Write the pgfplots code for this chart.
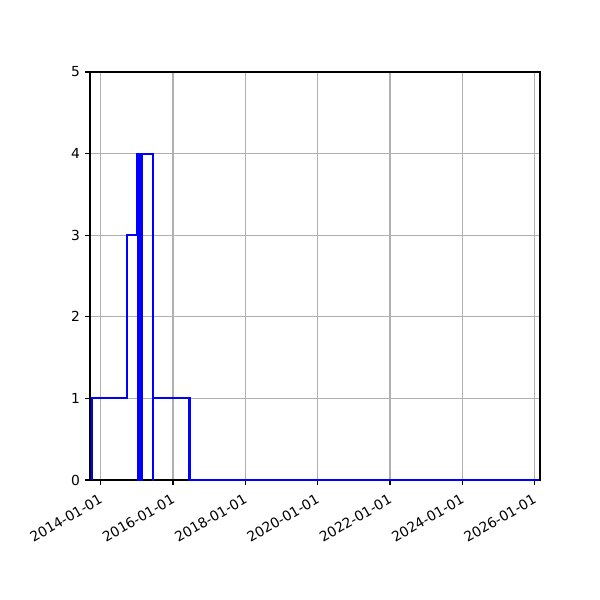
\documentclass[border=0pt]{standalone}
\usepackage{fontspec}
\setmainfont{DejaVu Sans}
\usepackage{pgfplots}
\pgfplotsset{compat=1.18}
\definecolor{gridgray}{RGB}{176,176,176}
\begin{document}
\begin{tikzpicture}
\useasboundingbox (-65.04pt,-86.72pt) rectangle (368.56pt,346.9pt);
\begin{axis}[
  at={(0,0)}, anchor=south west,
  scale only axis,
  width=325.2pt, height=294.9pt,
  xmin=2013.704, xmax=2026.147,
  ymin=0, ymax=5,
  xtick={2014,2016,2018,2020,2022,2024,2026},
  xticklabels={2014-01-01,2016-01-01,2018-01-01,2020-01-01,2022-01-01,2024-01-01,2026-01-01},
  ytick={0,1,2,3,4,5},
  /pgf/number format/assume math mode=true,
  tick label style={font=\fontsize{10}{12}\selectfont},
  xticklabel style={xshift=-1.7pt, yshift=-6.1pt, rotate=30, anchor=north east, inner sep=0pt},
  yticklabel style={inner sep=0pt, xshift=-3.5pt},
  grid=major,
  major grid style={color=gridgray, line width=0.8pt},
  axis line style={line width=0.8pt, black},
  tick style={black, line width=0.8pt},
  major tick length=3.5pt,
  tick align=outside,
  xtick pos=bottom, ytick pos=left,
]
\addplot[blue, line width=1.5pt, mark=none] coordinates {
(2013.750,0)(2013.750,1)(2014.720,1)(2014.720,3)(2015.010,3)(2015.010,4)
(2015.022,4)(2015.022,0)(2015.034,0)(2015.034,4)(2015.046,4)(2015.046,0)
(2015.058,0)(2015.058,4)(2015.070,4)(2015.070,0)(2015.082,0)(2015.082,4)
(2015.094,4)(2015.094,0)(2015.106,0)(2015.106,4)(2015.118,4)(2015.118,0)
(2015.130,0)(2015.130,4)(2015.142,4)(2015.142,0)(2015.154,0)(2015.154,4)
(2015.450,4)(2015.450,0)(2015.456,0)(2015.456,1)
(2016.440,1)(2016.440,0)(2016.455,0)(2016.455,1)(2016.470,1)(2016.470,0)
(2026.130,0)
};
\end{axis}
\end{tikzpicture}
\end{document}
